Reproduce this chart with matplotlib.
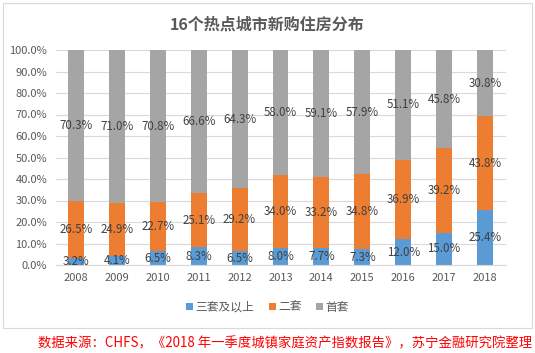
import numpy as np
import matplotlib
matplotlib.use("Agg")
import matplotlib.pyplot as plt
from matplotlib.patches import Rectangle

plt.rcParams['font.family'] = ['Noto Sans CJK SC', 'DejaVu Sans']

years = ['2008', '2009', '2010', '2011', '2012', '2013', '2014', '2015', '2016', '2017', '2018']
three_plus = [3.2, 4.1, 6.5, 8.3, 6.5, 8.0, 7.7, 7.3, 12.0, 15.0, 25.4]
second = [26.5, 24.9, 22.7, 25.1, 29.2, 34.0, 33.2, 34.8, 36.9, 39.2, 43.8]
first = [70.3, 71.0, 70.8, 66.6, 64.3, 58.0, 59.1, 57.9, 51.1, 45.8, 30.8]
series_names = ['三套及以上', '二套', '首套']
colors = ['#5B9BD5', '#ED7D31', '#A5A5A5']

fig = plt.figure(figsize=(5.35, 3.53), dpi=100)
ax = fig.add_axes([55.5 / 535, 1 - 265 / 353, 450 / 535, 215 / 353])

x = np.arange(len(years))
bottom = np.zeros(len(years))
for vals, name, c in zip([three_plus, second, first], series_names, colors):
    vals = np.array(vals)
    ax.bar(x, vals, 0.39, bottom=bottom, color=c, label=name, zorder=2)
    for xi, b, v in zip(x, bottom, vals):
        ax.text(xi, b + v / 2, f'{v:.1f}%', ha='center', va='center',
                fontsize=8.3, color='#404040', zorder=3)
    bottom += vals

ax.set_xlim(-0.5, len(years) - 0.5)
ax.set_ylim(0, 100)
ax.set_yticks(np.arange(0, 101, 10))
ax.set_yticklabels([f'{t:.1f}%' for t in np.arange(0, 101, 10)])
ax.set_xticks(x)
ax.set_xticklabels(years)
ax.tick_params(length=0, labelsize=8, labelcolor='#595959', pad=6)
ax.grid(axis='y', color='#D9D9D9', linewidth=0.8, zorder=0)
for s in ['top', 'right', 'left']:
    ax.spines[s].set_visible(False)
ax.spines['bottom'].set_color('#D9D9D9')

fig.text(0.5, 1 - 25 / 353, '16个热点城市新购住房分布', ha='center', va='center',
         fontsize=11.5, fontweight='bold', color='#595959')

leg = fig.legend(loc='center', bbox_to_anchor=(0.5, 1 - 307 / 353), ncol=3,
                 frameon=False, fontsize=8.5, handlelength=0.6, handleheight=0.6,
                 handletextpad=0.2, columnspacing=1.2, labelcolor='#595959')

fig.patches.append(Rectangle((3 / 535, 1 - 328 / 353), 529 / 535, 325 / 353,
                             transform=fig.transFigure, fill=False,
                             edgecolor='#D9D9D9', linewidth=0.8))

fig.text(532 / 535, 1 - 343 / 353,
         '数据来源：CHFS，《2018 年一季度城镇家庭资产指数报告》，苏宁金融研究院整理',
         ha='right', va='center', fontsize=9.6, color='#FF0000', style='italic')

fig.savefig('out.png', dpi=100)
